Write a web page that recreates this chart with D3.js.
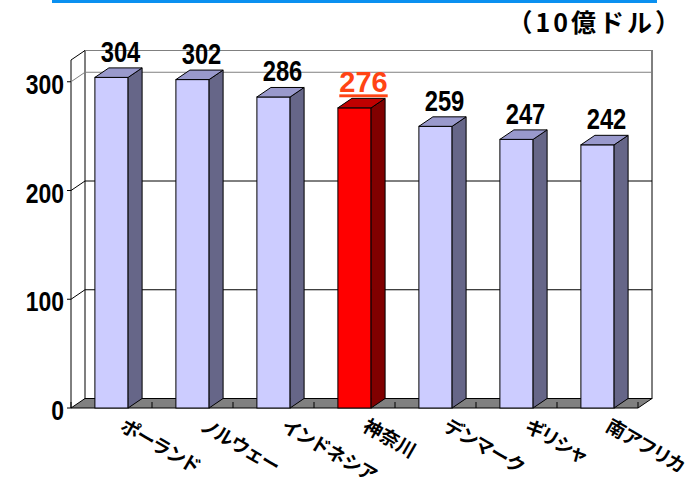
<!DOCTYPE html>
<html>
<head>
<meta charset="utf-8">
<script src="https://cdn.jsdelivr.net/npm/d3@7"></script>
<style>
  body { margin: 0; background: #fff; }
  svg { display: block; }
  .num { font-family: "Liberation Sans", Arial, sans-serif; font-weight: bold; }
  .jp { font-family: "Noto Sans CJK JP", sans-serif; font-weight: bold; }
  .cat { font-feature-settings: "palt"; }
</style>
</head>
<body>
<svg id="chart"></svg>
<script>
const width = 685;
const height = 478;

// data
const categories = ['ポーランド', 'ノルウェー', 'インドネシア', '神奈川', 'デンマーク', 'ギリシャ', '南アフリカ'];
const values = [304, 302, 286, 276, 259, 247, 242];
const highlight = '神奈川';
const yTicks = [0, 100, 200, 300];
const yMax = 320;
const unitLabel = '（10億ドル）';

// 3d depth offset
const dx = 14;
const dy = 9.5;
// narrow digits: squeeze Liberation Sans horizontally
const squeeze = 0.82;

const svg = d3.select('#chart')
    .attr('width', width)
    .attr('height', height)
    .attr('viewBox', `0 0 ${width} ${height}`);

const x = d3.scaleBand()
    .domain(categories)
    .range([71, 638])
    .paddingInner(0.59)
    .paddingOuter(0.295);

const y = d3.scaleLinear()
    .domain([0, yMax])
    .range([408, 60]);

const step = x.step();
const x0 = x.range()[0];
const x1 = x.range()[1];

// blue rule at the top
svg.append('rect')
    .attr('x', 52).attr('y', 0)
    .attr('width', 605).attr('height', 3)
    .attr('fill', '#0a90f0');

// unit label
svg.append('text')
    .attr('class', 'jp')
    .attr('x', 683).attr('y', 32)
    .attr('text-anchor', 'end')
    .attr('font-size', 25)
    .attr('letter-spacing', 3)
    .attr('fill', '#000')
    .text(unitLabel);

// back wall
svg.append('rect')
    .attr('x', x0 + dx).attr('y', y(yMax) - dy)
    .attr('width', x1 - x0).attr('height', y(0) - y(yMax))
    .attr('fill', '#fff')
    .attr('stroke', '#000');

// left side wall
svg.append('path')
    .attr('d', `M${x0},${y(0)}L${x0},${y(yMax)}L${x0 + dx},${y(yMax) - dy}`)
    .attr('fill', 'none')
    .attr('stroke', '#000');

// gridlines (side wall diagonal + back wall)
yTicks.filter(t => t > 0).forEach(t => {
    svg.append('path')
        .attr('d', `M${x0},${y(t)}L${x0 + dx},${y(t) - dy}L${x1 + dx},${y(t) - dy}`)
        .attr('fill', 'none')
        .attr('stroke', t === 300 ? '#808080' : '#000');
});
svg.append('line')
    .attr('x1', x0 + dx).attr('x2', x1 + dx)
    .attr('y1', y(yMax) - dy).attr('y2', y(yMax) - dy)
    .attr('stroke', '#808080');

yTicks.forEach(t => {
    svg.append('line')
        .attr('x1', x0 - 4).attr('x2', x0)
        .attr('y1', y(t)).attr('y2', y(t))
        .attr('stroke', '#000');
});

// floor
svg.append('path')
    .attr('d', `M${x0},${y(0)}L${x1},${y(0)}L${x1 + dx},${y(0) - dy}L${x0 + dx},${y(0) - dy}Z`)
    .attr('fill', '#808080')
    .attr('stroke', '#000');

d3.range(categories.length + 1).forEach(i => {
    const xt = x0 + i * step;
    svg.append('line')
        .attr('x1', xt).attr('x2', xt)
        .attr('y1', y(0) - 6).attr('y2', y(0))
        .attr('stroke', '#000');
});

// y axis labels
svg.selectAll('text.ylab')
    .data(yTicks)
    .join('text')
    .attr('class', 'ylab num')
    .attr('transform', d => `translate(64,${y(d) + 12}) scale(${squeeze},1)`)
    .attr('text-anchor', 'end')
    .attr('font-size', 28)
    .text(d => d);

// bars
const data = categories.map((c, i) => ({ name: c, value: values[i] }));
const bw = x.bandwidth();

const bars = svg.selectAll('g.bar')
    .data(data)
    .join('g')
    .attr('class', 'bar')
    .attr('stroke', '#000')
    .attr('stroke-width', 1);

bars.append('rect')
    .attr('x', d => x(d.name))
    .attr('y', d => y(d.value))
    .attr('width', bw)
    .attr('height', d => y(0) - y(d.value))
    .attr('fill', d => d.name === highlight ? '#ff0000' : '#ccccff');

bars.append('path')
    .attr('d', d => {
        const a = x(d.name) + bw, t = y(d.value), b = y(0);
        return `M${a},${b}L${a + dx},${b - dy}L${a + dx},${t - dy}L${a},${t}Z`;
    })
    .attr('fill', d => d.name === highlight ? '#800000' : '#666688');

bars.append('path')
    .attr('d', d => {
        const l = x(d.name), r = l + bw, t = y(d.value);
        return `M${l},${t}L${r},${t}L${r + dx},${t - dy}L${l + dx},${t - dy}Z`;
    })
    .attr('fill', d => d.name === highlight ? '#c00000' : '#9999cc');

// value labels
svg.selectAll('text.val')
    .data(data)
    .join('text')
    .attr('class', 'val num')
    .attr('transform', d => {
        const s = d.name === highlight ? 1 : squeeze;
        return `translate(${x(d.name) + bw / 2 + 9},${y(d.value) - dy - 6}) scale(${s},1)`;
    })
    .attr('text-anchor', 'middle')
    .attr('font-size', 29)
    .attr('fill', d => d.name === highlight ? '#ff4414' : '#000')
    .style('text-decoration', d => d.name === highlight ? 'underline' : null)
    .text(d => d.value);

// category labels
svg.selectAll('text.cat')
    .data(categories)
    .join('text')
    .attr('class', 'cat jp')
    .attr('font-size', 19)
    .attr('transform', d => `translate(${x(d) + bw / 2 + 7},430) rotate(30)`)
    .text(d => d);
</script>
</body>
</html>
